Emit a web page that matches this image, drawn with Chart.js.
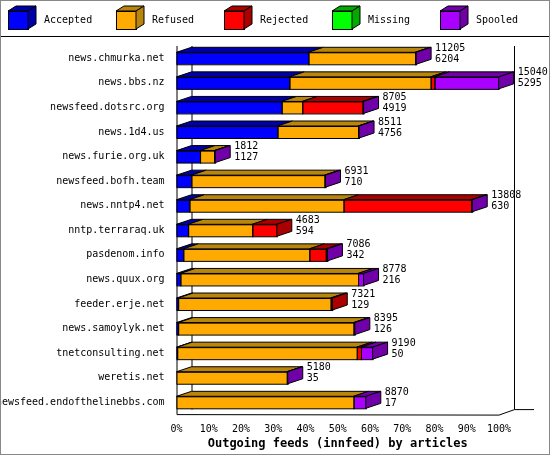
<!DOCTYPE html>
<html><head><meta charset="utf-8">
<script src="https://cdn.jsdelivr.net/npm/chart.js@4/dist/chart.umd.min.js"></script>
<style>html,body{margin:0;padding:0;background:#fff}#w{width:550px;height:455px;position:relative}</style>
</head><body><div id="w"><canvas id="c" width="550" height="455"></canvas></div>
<script>
const categories=["news.chmurka.net","news.bbs.nz","newsfeed.dotsrc.org","news.1d4.us","news.furie.org.uk","newsfeed.bofh.team","news.nntp4.net","nntp.terraraq.uk","pasdenom.info","news.quux.org","feeder.erje.net","news.samoylyk.net","tnetconsulting.net","weretis.net","newsfeed.endofthelinebbs.com"];
const offered=[11205,15040,8705,8511,1812,6931,13808,4683,7086,8778,7321,8395,9190,5180,8870];
const acceptedCount=[6204,5295,4919,4756,1127,710,630,594,342,216,129,126,50,35,17];
const accepted=[40.9,35.0,32.6,31.3,7.3,4.6,4.0,3.6,2.1,1.2,0.5,0.5,0.2,0,0];
const refused=[33.1,43.8,6.4,25.0,4.4,41.3,47.8,19.9,39.1,55.1,47.3,54.4,55.7,34.2,54.9];
const rejected=[0,1.2,18.7,0,0,0,39.6,7.6,5.1,0,0.5,0,1.3,0,0];
const missing=[0,0,0,0,0,0,0,0,0,0,0,0,0,0,0];
const spooled=[0.3,19.9,0.3,0.3,0.3,0.3,0.3,0,0.5,1.7,0,0.4,3.6,0.3,3.8];
const seriesNames=["Accepted","Refused","Rejected","Missing","Spooled"];
const colors=["#0000ff","#ffaa00","#ff0000","#00ff00","#aa00ff"];
const tops=["#0000aa","#b8860b","#aa0000","#00aa00","#7000a8"];
const sides=["#0000aa","#b8860b","#aa0000","#00aa00","#7000a8"];
const DX=15,DY=5,FF="'DejaVu Sans Mono', monospace",F="10px "+FF;
const deco={id:'deco',
beforeDatasetsDraw(ch){const c=ch.ctx,a=ch.chartArea;c.save();c.strokeStyle='#000';c.lineWidth=1;
 c.beginPath();c.moveTo(a.left+DX+.5,a.top);c.lineTo(a.left+DX+.5,a.bottom-DY);
 c.moveTo(a.right+DX+.5,a.top);c.lineTo(a.right+DX+.5,a.bottom-DY);c.lineTo(a.right+DX+20,a.bottom-DY);
 c.moveTo(a.right,a.bottom+.5);c.lineTo(a.right+DX+.5,a.bottom-DY);
 c.moveTo(a.left+.5,a.top);c.lineTo(a.left+.5,a.bottom);c.lineTo(a.right,a.bottom+.5);c.stroke();c.restore();},
afterDatasetsDraw(ch){const c=ch.ctx;c.save();c.lineWidth=1;c.strokeStyle='#000';
 const n=categories.length;
 for(let i=0;i<n;i++){let last=-1,endX=0,top=0,bot=0;
  for(let d=0;d<5;d++){const el=ch.getDatasetMeta(d).data[i];const v=ch.data.datasets[d].data[i];
   if(!v)continue;const x0=Math.min(el.base,el.x),x1=Math.max(el.base,el.x);top=el.y-el.height/2;bot=el.y+el.height/2;
   c.fillStyle=tops[d];c.beginPath();c.moveTo(x0,top);c.lineTo(x0+DX,top-DY);c.lineTo(x1+DX,top-DY);c.lineTo(x1,top);c.closePath();c.fill();c.stroke();
   c.strokeRect(x0+.5,top+.5,x1-x0,bot-top);last=d;endX=x1;}
  if(last>=0){c.fillStyle=sides[last];c.beginPath();c.moveTo(endX,top);c.lineTo(endX+DX,top-DY);c.lineTo(endX+DX,bot-DY);c.lineTo(endX,bot);c.closePath();c.fill();c.stroke();
   c.fillStyle='#000';c.font=F;c.textAlign='left';c.textBaseline='middle';
   c.fillText(String(offered[i]),endX+DX+4,top-4);c.fillText(String(acceptedCount[i]),endX+DX+4,top+7);}
 }
 c.font=F;c.textBaseline='middle';
 for(let d=0;d<5;d++){const x=8+d*108,y=11;c.fillStyle=colors[d];c.fillRect(x,y,20,18);c.strokeRect(x+.5,y+.5,20,18);
  c.fillStyle=tops[d];c.beginPath();c.moveTo(x,y);c.lineTo(x+8,y-5);c.lineTo(x+28,y-5);c.lineTo(x+20,y);c.closePath();c.fill();c.stroke();
  c.beginPath();c.moveTo(x+20,y);c.lineTo(x+28,y-5);c.lineTo(x+28,y+13);c.lineTo(x+20,y+18);c.closePath();c.fill();c.stroke();
  c.fillStyle='#000';c.fillText(seriesNames[d],x+36,y+9);}
 c.beginPath();c.moveTo(0,36.5);c.lineTo(550,36.5);c.stroke();
 c.strokeStyle='#888';c.strokeRect(.5,.5,549,454);
 c.restore();}};
new Chart(document.getElementById('c'),{type:'bar',
data:{labels:categories,datasets:[accepted,refused,rejected,missing,spooled].map((d,k)=>({label:seriesNames[k],data:d,backgroundColor:colors[k],borderWidth:0,barThickness:12}))},
options:{indexAxis:'y',responsive:false,animation:false,events:[],
 layout:{padding:{top:46,right:51,bottom:0,left:0}},
 plugins:{legend:{display:false},tooltip:{enabled:false}},
 scales:{
  x:{stacked:true,min:0,max:100,grid:{display:false,drawTicks:true},border:{display:false},
   ticks:{stepSize:10,color:'#000',font:{family:FF,size:10},padding:1,callback:v=>v+'%',maxRotation:0},
   title:{display:true,text:'Outgoing feeds (innfeed) by articles',color:'#000',font:{family:FF,size:12,weight:'bold'},padding:{top:0,bottom:4}}},
  y:{stacked:true,grid:{display:false},border:{display:false},afterFit(s){s.width=176.5;},
   ticks:{color:'#000',font:{family:FF,size:10},padding:4}}
 }},plugins:[deco]});
</script></body></html>
